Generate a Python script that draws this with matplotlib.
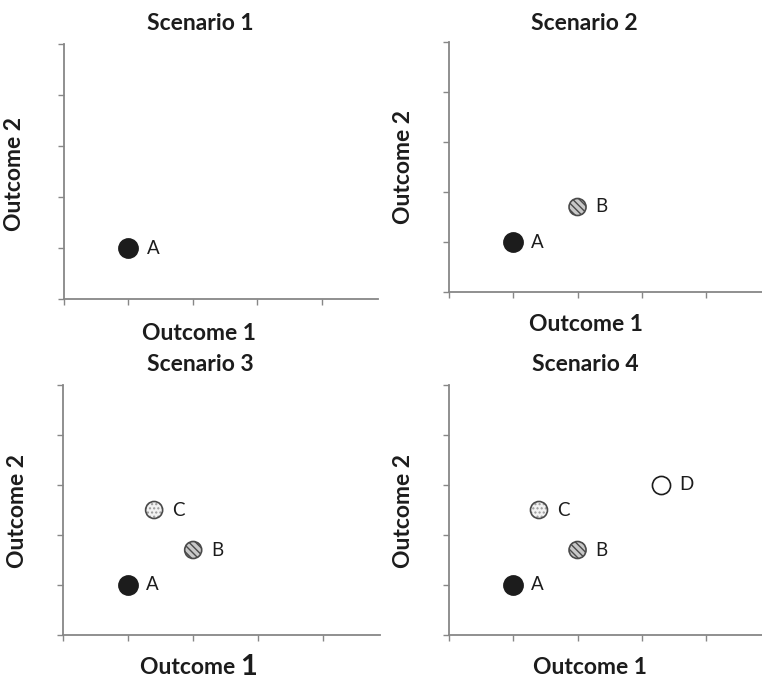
import matplotlib
matplotlib.use("Agg")
import matplotlib.pyplot as plt

plt.rcParams['font.family'] = ['Lato', 'DejaVu Sans']
plt.rcParams['hatch.linewidth'] = 1.0

# options and their outcomes
options = ['A', 'B', 'C', 'D']
outcome1 = {'A': 1.0, 'B': 2.0, 'C': 1.4, 'D': 3.3}
outcome2 = {'A': 1.0, 'B': 1.7, 'C': 2.5, 'D': 3.0}
scenarios = ['Scenario 1', 'Scenario 2', 'Scenario 3', 'Scenario 4']
shown = [['A'], ['A', 'B'], ['A', 'B', 'C'], ['A', 'B', 'C', 'D']]
x_ticks = [0, 1, 2, 3, 4]
y_ticks = [0, 1, 2, 3, 4, 5]

# marker look for each option
styles = {
    'A': dict(s=190, facecolor='#1c1c1c', edgecolor='#1c1c1c', hatch=None),
    'B': dict(s=150, facecolor='#c8c8c8', edgecolor='#4a4a4a', hatch='\\\\\\\\\\'),
    'C': dict(s=150, facecolor='#f2f2f2', edgecolor='#9a9a9a', hatch='....'),
    'D': dict(s=170, facecolor='white', edgecolor='#1c1c1c', hatch=None),
}

W, H = 762, 681
fig = plt.figure(figsize=(W / 100, H / 100), dpi=100)

# axes boxes in pixels: left, top, right, bottom
boxes = [(64, 44, 378, 299), (449, 42, 762, 292),
         (63, 385, 380, 635), (449, 385, 762, 635)]
title_pos = [(200, 23), (584, 24), (200, 364), (585, 365)]
xlab_pos = [(199, 333), (586, 325), (200, 667), (590, 668)]
ylab_pos = [(15, 174), (403, 167), (18, 511), (403, 511)]

txt = dict(fontsize=16.5, fontweight='bold', color='#1c1c1c')

for i, (l, t, r, b) in enumerate(boxes):
    ax = fig.add_axes([l / W, 1 - b / H, (r - l) / W, (b - t) / H])
    ax.set_xlim(0, 4.87)
    ax.set_ylim(0, 5)
    ax.set_xticks(x_ticks)
    ax.set_yticks(y_ticks)
    ax.set_xticklabels([])
    ax.set_yticklabels([])
    for side in ['top', 'right']:
        ax.spines[side].set_visible(False)
    for side in ['left', 'bottom']:
        ax.spines[side].set_color('#878787')
        ax.spines[side].set_linewidth(1.3)
    ax.tick_params(direction='out', length=4, width=1.0, color='#878787')

    for opt in shown[i]:
        st = styles[opt]
        if st['hatch']:
            ax.scatter([outcome1[opt]], [outcome2[opt]], s=st['s'],
                       facecolor=st['facecolor'], edgecolor=st['edgecolor'],
                       hatch=st['hatch'], linewidth=0, zorder=3, clip_on=False)
            ax.scatter([outcome1[opt]], [outcome2[opt]], s=st['s'],
                       facecolor='none', edgecolor='#4a4a4a',
                       linewidth=1.2, zorder=4, clip_on=False)
        else:
            ax.scatter([outcome1[opt]], [outcome2[opt]], s=st['s'],
                       facecolor=st['facecolor'], edgecolor=st['edgecolor'],
                       linewidth=1.2, zorder=3, clip_on=False)
        ax.annotate(opt, (outcome1[opt], outcome2[opt]), xytext=(13, 0),
                    textcoords='offset points', va='center', ha='left',
                    fontsize=13.5, color='#1c1c1c')

    tx, ty = title_pos[i]
    fig.text(tx / W, 1 - ty / H, scenarios[i], ha='center', va='center', **txt)
    yx, yy = ylab_pos[i]
    fig.text(yx / W, 1 - yy / H, 'Outcome 2', ha='center', va='center',
             rotation=90, **txt)
    xx, xy = xlab_pos[i]
    if i == 2:
        # third panel has a larger "1"
        t1 = fig.text(xx / W - 0.013, 1 - xy / H, 'Outcome ', ha='center',
                      va='center', **txt)
        ax.annotate('1', xy=(1, 0), xycoords=t1, xytext=(0, -1.5),
                    textcoords='offset points', ha='left', va='bottom',
                    fontsize=21, fontweight='bold', color='#1c1c1c',
                    annotation_clip=False)
    else:
        fig.text(xx / W, 1 - xy / H, 'Outcome 1', ha='center', va='center', **txt)

fig.savefig('out.png', dpi=100)
